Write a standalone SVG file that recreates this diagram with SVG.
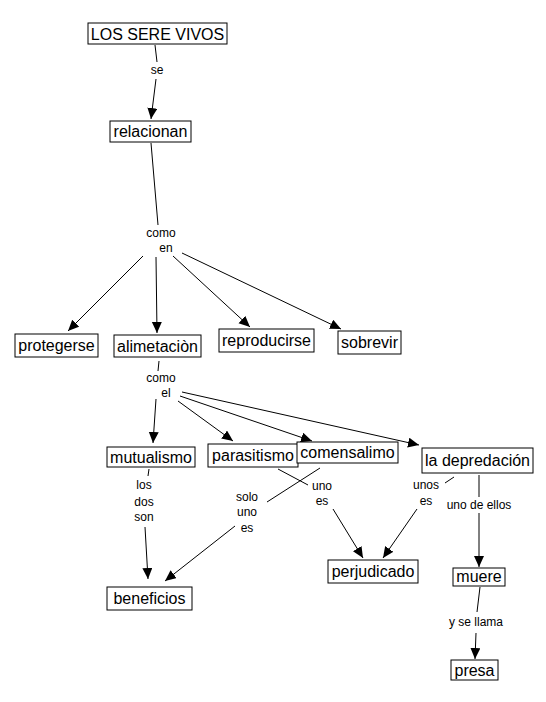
<svg xmlns="http://www.w3.org/2000/svg" width="546" height="702" viewBox="0 0 546 702">
<style>
.box{fill:#fff;stroke:#000;stroke-width:1}
.t{font-family:"Liberation Sans",Arial,sans-serif;font-size:16px;fill:#000;text-anchor:middle}
.l{font-family:"Liberation Sans",Arial,sans-serif;font-size:12px;fill:#000;text-anchor:middle}
.c line{stroke:#000;stroke-width:1}
.c line.a{marker-end:url(#ah)}
</style>
<defs>
<marker id="ah" markerUnits="userSpaceOnUse" markerWidth="12" markerHeight="11" refX="11" refY="5" orient="auto">
<path d="M0,0 L11,5 L0,10 z" fill="#000"/>
</marker>
</defs>
<rect width="546" height="702" fill="#fff"/>
<g class="c" id="connectors">
<line x1="155" y1="45" x2="157" y2="62"/>
<line class="a" x1="156" y1="79" x2="151" y2="119"/>
<line x1="151" y1="143" x2="158" y2="225"/>
<line class="a" x1="143" y1="256" x2="68" y2="331"/>
<line class="a" x1="156" y1="257" x2="157" y2="333"/>
<line class="a" x1="173" y1="256" x2="250" y2="327"/>
<line class="a" x1="182" y1="253" x2="341" y2="329"/>
<line x1="159" y1="361" x2="158" y2="371"/>
<line class="a" x1="156" y1="399" x2="153" y2="443"/>
<line class="a" x1="178" y1="401" x2="233" y2="441"/>
<line class="a" x1="180" y1="396" x2="312" y2="441"/>
<line class="a" x1="182" y1="392" x2="419" y2="445"/>
<line x1="149" y1="469" x2="148" y2="476"/>
<line class="a" x1="145" y1="527" x2="148" y2="579"/>
<line x1="320" y1="468" x2="267" y2="502"/>
<line class="a" x1="235" y1="526" x2="165" y2="581"/>
<line x1="278" y1="469" x2="308" y2="485"/>
<line class="a" x1="333" y1="509" x2="363" y2="558"/>
<line x1="454" y1="477" x2="445" y2="483"/>
<line class="a" x1="417" y1="509" x2="383" y2="558"/>
<line x1="479" y1="475" x2="479" y2="497"/>
<line class="a" x1="479" y1="513" x2="479" y2="567"/>
<line x1="480" y1="587" x2="477" y2="612"/>
<line class="a" x1="476" y1="633" x2="475" y2="659"/>
</g>
<g id="labels">
<text class="l" x="157" y="74">se</text>
<text class="l" x="161" y="237">como</text>
<text class="l" x="166" y="252">en</text>
<text class="l" x="161" y="382">como</text>
<text class="l" x="166" y="397">el</text>
<text class="l" x="144" y="489">los</text>
<text class="l" x="144" y="506">dos</text>
<text class="l" x="144" y="521">son</text>
<text class="l" x="247" y="501">solo</text>
<text class="l" x="247" y="516">uno</text>
<text class="l" x="247" y="532">es</text>
<text class="l" x="322" y="490">uno</text>
<text class="l" x="322" y="505">es</text>
<text class="l" x="426" y="489">unos</text>
<text class="l" x="426" y="505">es</text>
<text class="l" x="479" y="509">uno de ellos</text>
<text class="l" x="476" y="626">y se llama</text>
</g>
<g id="n-los"><rect class="box" x="88" y="23" width="139" height="21"/><text class="t" x="157.5" y="39.5">LOS SERE VIVOS</text></g>
<g id="n-relacionan"><rect class="box" x="110" y="121" width="81" height="21"/><text class="t" x="150.5" y="137">relacionan</text></g>
<g id="n-protegerse"><rect class="box" x="15" y="334" width="83" height="23"/><text class="t" x="56.5" y="351">protegerse</text></g>
<g id="n-alimetacion"><rect class="box" x="114" y="335" width="87" height="22"/><text class="t" x="157.5" y="351.5">alimetaciòn</text></g>
<g id="n-reproducirse"><rect class="box" x="219" y="329" width="95" height="23"/><text class="t" x="266.5" y="346">reproducirse</text></g>
<g id="n-sobrevir"><rect class="box" x="338" y="331" width="63" height="23"/><text class="t" x="369.5" y="348">sobrevir</text></g>
<g id="n-mutualismo"><rect class="box" x="107" y="447" width="88" height="20"/><text class="t" x="151" y="462.5">mutualismo</text></g>
<g id="n-parasitismo"><rect class="box" x="208" y="444" width="90" height="23"/><text class="t" x="253" y="461">parasitismo</text></g>
<g id="n-comensalimo"><rect class="box" x="297" y="442" width="101" height="21"/><text class="t" x="347.5" y="458">comensalimo</text></g>
<g id="n-depredacion"><rect class="box" x="422" y="448" width="111" height="25"/><text class="t" x="477.5" y="466">la depredación</text></g>
<g id="n-beneficios"><rect class="box" x="107" y="587" width="85" height="23"/><text class="t" x="149.5" y="604">beneficios</text></g>
<g id="n-perjudicado"><rect class="box" x="328" y="560" width="90" height="23"/><text class="t" x="373" y="577">perjudicado</text></g>
<g id="n-muere"><rect class="box" x="453" y="568" width="52" height="18"/><text class="t" x="479" y="582">muere</text></g>
<g id="n-presa"><rect class="box" x="451" y="660" width="47" height="20"/><text class="t" x="474.5" y="676">presa</text></g>
</svg>
